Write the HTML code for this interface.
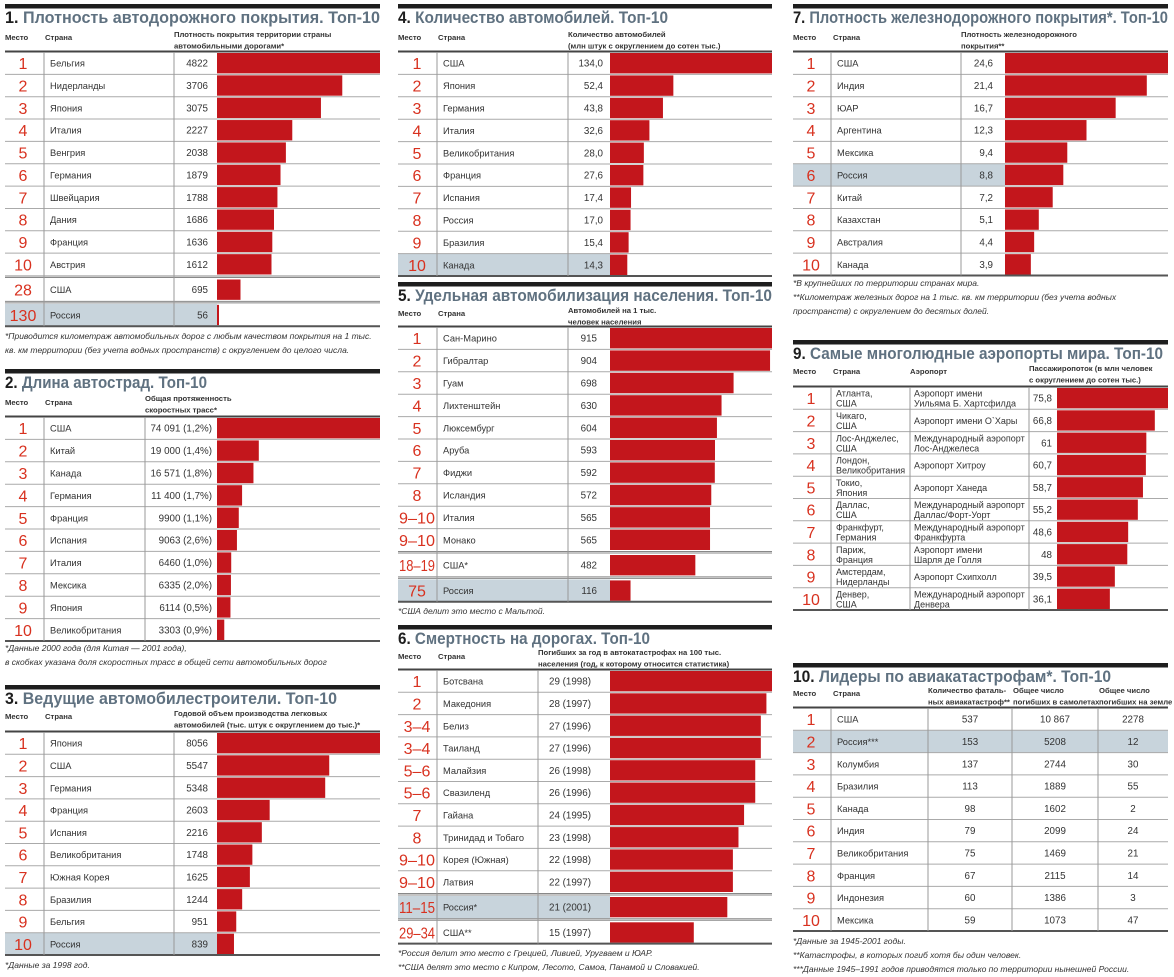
<!DOCTYPE html><html><head><meta charset="utf-8"><style>
html,body{margin:0;padding:0;background:#fff;width:1174px;height:977px;overflow:hidden}
svg{display:block}
text{font-family:"Liberation Sans","DejaVu Sans",sans-serif}
</style></head><body>
<svg id="s" width="1174" height="977" xmlns="http://www.w3.org/2000/svg"></svg>
<script>
var o=[];
var RED='#c3161c',NUM='#d8311f',GR='#5f7180',SH='#c8d4dc';
function R(x,y,w,h,f){o.push('<rect x="'+x+'" y="'+y+'" width="'+w+'" height="'+h+'" fill="'+f+'"/>');}
function L(x1,y1,x2,y2,c,w){o.push('<line x1="'+x1+'" y1="'+y1+'" x2="'+x2+'" y2="'+y2+'" stroke="'+c+'" stroke-width="'+w+'"/>');}
function T(x,y,s,sz,a,c,extra){o.push('<text x="'+x+'" y="'+y+'" font-size="'+sz+'" text-anchor="'+(a||'start')+'" fill="'+(c||'#222')+'" '+(extra||'')+'>'+s+'</text>');}
function title(x0,x1,y,num,rest){
 R(x0,y,x1-x0,4.5,'#1e1e1e');
 o.push('<text x="'+x0+'" y="'+(y+19)+'" font-size="17" font-weight="bold" textLength="'+(rest[1])+'" lengthAdjust="spacingAndGlyphs"><tspan fill="#1e1e1e">'+num+'</tspan><tspan fill="'+GR+'">'+rest[0]+'</tspan></text>');
}
function hdr(x,y,lines){lines.forEach(function(l,i){T(x,y+i*11.5,l,7.7,'start','#333','font-weight="bold"');});}
function foot(x,y,lines){lines.forEach(function(l,i){T(x,y+i*14,l,8.5,'start','#333','font-style="italic"');});}
function table(c){
 var x0=c.x0,x1=c.x1,top=c.top,rh=c.rh;
 var ys=[],y=top;
 c.rows.forEach(function(r,i){ if(r.gap)y+=r.gap; ys.push(y); y+=rh;});
 var bot=y;
 c.rows.forEach(function(r,i){
  var ry=ys[i];
  if(r.sh)R(x0,ry,c.barX-x0,rh,SH);
  if(i>0){ if(r.gap){L(x0,ry-r.gap+0.5,x1,ry-r.gap+0.5,'#888',1);L(x0,ry-1,x1,ry-1,'#888',1);} else L(x0,ry,x1,ry,'#aaa',1);}
  if(c.bar&&r.b!=null){var w=(x1-c.barX)*r.b/c.max; R(c.barX,ry+1,Math.max(w,2),rh-2,RED);}
  var cy=ry+rh/2;
  T(c.numX,cy+6,r.n,16,'middle',NUM,r.n.length>3?'textLength="36" lengthAdjust="spacingAndGlyphs"':'');
  if(c.rowFn)c.rowFn(r,cy); else {
   T(c.cX,cy+3.5,r.c,9.3,'start','#333');
   T(c.vX,cy+3.5,r.v,9.8,c.vA||'end','#333');
  }
 });
 L(x0,top-0.5,x1,top-0.5,'#444',2);
 L(x0,bot,x1,bot,'#555',2);
 c.vl.forEach(function(vx){L(vx,top,vx,bot,'#999',1);});
 return bot;
}
function mk(arr){return arr.map(function(a){return {n:a[0],c:a[1],v:a[2],b:a[3],sh:a[4],gap:a[5]};});}

title(5,380,4,'1. ',['Плотность автодорожного покрытия. Топ-10',375]);
hdr(5,40,['Место']);hdr(45,40,['Страна']);hdr(174,37,['Плотность покрытия территории страны','автомобильными дорогами*']);
table({x0:5,x1:380,top:52,rh:22.35,numX:23,cX:50,vX:208,barX:217,bar:1,max:4822,vl:[44,174],
rows:mk([['1','Бельгия','4822',4822],['2','Нидерланды','3706',3706],['3','Япония','3075',3075],['4','Италия','2227',2227],['5','Венгрия','2038',2038],['6','Германия','1879',1879],['7','Швейцария','1788',1788],['8','Дания','1686',1686],['9','Франция','1636',1636],['10','Австрия','1612',1612],['28','США','695',695,0,3],['130','Россия','56',56,1,3]])});
foot(5,339,['*Приводится километраж автомобильных дорог с любым качеством покрытия на 1 тыс.','кв. км территории (без учета водных пространств) с округлением до целого числа.']);

title(5,380,369,'2. ',['Длина автострад. Топ-10',202]);
hdr(5,405,['Место']);hdr(45,405,['Страна']);hdr(145,401,['Общая протяженность','скоростных трасс*']);
table({x0:5,x1:380,top:417,rh:22.4,numX:23,cX:50,vX:212,barX:217,bar:1,max:74091,vl:[44,145],
rows:mk([['1','США','74 091 (1,2%)',74091],['2','Китай','19 000 (1,4%)',19000],['3','Канада','16 571 (1,8%)',16571],['4','Германия','11 400 (1,7%)',11400],['5','Франция','9900 (1,1%)',9900],['6','Испания','9063 (2,6%)',9063],['7','Италия','6460 (1,0%)',6460],['8','Мексика','6335 (2,0%)',6335],['9','Япония','6114 (0,5%)',6114],['10','Великобритания','3303 (0,9%)',3303]])});
foot(5,651,['*Данные 2000 года (для Китая — 2001 года),','в скобках указана доля скоростных трасс в общей сети автомобильных дорог']);

title(5,380,685,'3. ',['Ведущие автомобилестроители. Топ-10',332]);
hdr(5,719,['Место']);hdr(45,719,['Страна']);hdr(174,716,['Годовой объем производства легковых','автомобилей (тыс. штук с округлением до тыс.)*']);
table({x0:5,x1:380,top:732,rh:22.3,numX:23,cX:50,vX:208,barX:217,bar:1,max:8056,vl:[44,174],
rows:mk([['1','Япония','8056',8056],['2','США','5547',5547],['3','Германия','5348',5348],['4','Франция','2603',2603],['5','Испания','2216',2216],['6','Великобритания','1748',1748],['7','Южная Корея','1625',1625],['8','Бразилия','1244',1244],['9','Бельгия','951',951],['10','Россия','839',839,1]])});
foot(5,968,['*Данные за 1998 год.']);

title(398,772,4,'4. ',['Количество автомобилей. Топ-10',270]);
hdr(398,40,['Место']);hdr(438,40,['Страна']);hdr(568,37,['Количество автомобилей','(млн штук с округлением до сотен тыс.)']);
table({x0:398,x1:772,top:52,rh:22.4,numX:417,cX:443,vX:603,barX:610,bar:1,max:134,vl:[437,568],
rows:mk([['1','США','134,0',134],['2','Япония','52,4',52.4],['3','Германия','43,8',43.8],['4','Италия','32,6',32.6],['5','Великобритания','28,0',28],['6','Франция','27,6',27.6],['7','Испания','17,4',17.4],['8','Россия','17,0',17],['9','Бразилия','15,4',15.4],['10','Канада','14,3',14.3,1]])});

title(398,772,282,'5. ',['Удельная автомобилизация населения. Топ-10',374]);
hdr(398,316,['Место']);hdr(438,316,['Страна']);hdr(568,313,['Автомобилей на 1 тыс.','человек населения']);
table({x0:398,x1:772,top:327,rh:22.4,numX:417,cX:443,vX:597,barX:610,bar:1,max:915,vl:[437,568],
rows:mk([['1','Сан-Марино','915',915],['2','Гибралтар','904',904],['3','Гуам','698',698],['4','Лихтенштейн','630',630],['5','Люксембург','604',604],['6','Аруба','593',593],['7','Фиджи','592',592],['8','Исландия','572',572],['9–10','Италия','565',565],['9–10','Монако','565',565],['18–19','США*','482',482,0,3],['75','Россия','116',116,1,3]])});
foot(398,614,['*США делит это место с Мальтой.']);

title(398,772,625,'6. ',['Смертность на дорогах. Топ-10',252]);
hdr(398,659,['Место']);hdr(438,659,['Страна']);hdr(538,655,['Погибших за год в автокатастрофах на 100 тыс.','населения (год, к которому относится статистика)']);
table({x0:398,x1:772,top:670,rh:22.3,numX:417,cX:443,vX:570,vA:'middle',barX:610,bar:1,max:29,vl:[437,538],
rows:mk([['1','Ботсвана','29 (1998)',29],['2','Македония','28 (1997)',28],['3–4','Белиз','27 (1996)',27],['3–4','Таиланд','27 (1996)',27],['5–6','Малайзия','26 (1998)',26],['5–6','Свазиленд','26 (1996)',26],['7','Гайана','24 (1995)',24],['8','Тринидад и Тобаго','23 (1998)',23],['9–10','Корея (Южная)','22 (1998)',22],['9–10','Латвия','22 (1997)',22],['11–15','Россия*','21 (2001)',21,1,3],['29–34','США**','15 (1997)',15,0,3]])});
foot(398,956,['*Россия делит это место с Грецией, Ливией, Уругваем и ЮАР.','**США делят это место с Кипром, Лесото, Самоа, Панамой и Словакией.']);

title(793,1168,4,'7. ',['Плотность железнодорожного покрытия*. Топ-10',375]);
hdr(793,40,['Место']);hdr(833,40,['Страна']);hdr(961,37,['Плотность железнодорожного','покрытия**']);
table({x0:793,x1:1168,top:52,rh:22.35,numX:811,cX:837,vX:993,barX:1005,bar:1,max:24.6,vl:[831,961],
rows:mk([['1','США','24,6',24.6],['2','Индия','21,4',21.4],['3','ЮАР','16,7',16.7],['4','Аргентина','12,3',12.3],['5','Мексика','9,4',9.4],['6','Россия','8,8',8.8,1],['7','Китай','7,2',7.2],['8','Казахстан','5,1',5.1],['9','Австралия','4,4',4.4],['10','Канада','3,9',3.9]])});
foot(793,286,['*В крупнейших по территории странах мира.','**Километраж железных дорог на 1 тыс. кв. км территории (без учета водных','пространств) с округлением до десятых долей.']);

title(793,1168,340,'9. ',['Самые многолюдные аэропорты мира. Топ-10',370]);
hdr(793,374,['Место']);hdr(833,374,['Страна']);hdr(910,374,['Аэропорт']);hdr(1029,371,['Пассажиропоток (в млн человек','с округлением до сотен тыс.)']);
var air=[['1','Атланта,|США','Аэропорт имени|Уильяма Б. Хартсфилда','75,8',75.8],['2','Чикаго,|США','Аэропорт имени О`Хары','66,8',66.8],['3','Лос-Анджелес,|США','Международный аэропорт|Лос-Анджелеса','61',61],['4','Лондон,|Великобритания','Аэропорт Хитроу','60,7',60.7],['5','Токио,|Япония','Аэропорт Ханеда','58,7',58.7],['6','Даллас,|США','Международный аэропорт|Даллас/Форт-Уорт','55,2',55.2],['7','Франкфурт,|Германия','Международный аэропорт|Франкфурта','48,6',48.6],['8','Париж,|Франция','Аэропорт имени|Шарля де Голля','48',48],['9','Амстердам,|Нидерланды','Аэропорт Схипхолл','39,5',39.5],['10','Денвер,|США','Международный аэропорт|Денвера','36,1',36.1]];
function two(x,cy,s,sz){var p=s.split('|');if(p.length==1)T(x,cy+3.5,s,sz,'start','#333');else{T(x,cy-1.5,p[0],sz,'start','#333');T(x,cy+8.5,p[1],sz,'start','#333');}}
table({x0:793,x1:1168,top:387,rh:22.3,numX:811,barX:1057,bar:1,max:75.8,vl:[831,910,1029],
rows:air.map(function(a){return {n:a[0],c:a[1],a:a[2],v:a[3],b:a[4]};}),
rowFn:function(r,cy){two(836,cy,r.c,9);two(914,cy,r.a,9);T(1052,cy+3.5,r.v,9.8,'end','#333');}});

title(793,1168,663,'10. ',['Лидеры по авиакатастрофам*. Топ-10',318]);
hdr(793,696,['Место']);hdr(833,696,['Страна']);hdr(928,693,['Количество фаталь-','ных авиакатастроф**']);hdr(1013,693,['Общее число','погибших в самолетах']);hdr(1099,693,['Общее число','погибших на земле']);
var av=[['1','США','537','10 867','2278'],['2','Россия***','153','5208','12',1],['3','Колумбия','137','2744','30'],['4','Бразилия','113','1889','55'],['5','Канада','98','1602','2'],['6','Индия','79','2099','24'],['7','Великобритания','75','1469','21'],['8','Франция','67','2115','14'],['9','Индонезия','60','1386','3'],['10','Мексика','59','1073','47']];
table({x0:793,x1:1168,top:708,rh:22.3,numX:811,barX:1168,bar:0,vl:[831,928,1012,1098],
rows:av.map(function(a){return {n:a[0],c:a[1],a:a[2],b2:a[3],c3:a[4],sh:a[5]};}),
rowFn:function(r,cy){T(837,cy+3.5,r.c,9.3,'start','#333');T(970,cy+3.5,r.a,9.8,'middle','#333');T(1055,cy+3.5,r.b2,9.8,'middle','#333');T(1133,cy+3.5,r.c3,9.8,'middle','#333');}});
foot(793,944,['*Данные за 1945-2001 годы.','**Катастрофы, в которых погиб хотя бы один человек.','***Данные 1945–1991 годов приводятся только по территории нынешней России.']);

document.getElementById('s').innerHTML=o.join('');
</script>
</body></html>
